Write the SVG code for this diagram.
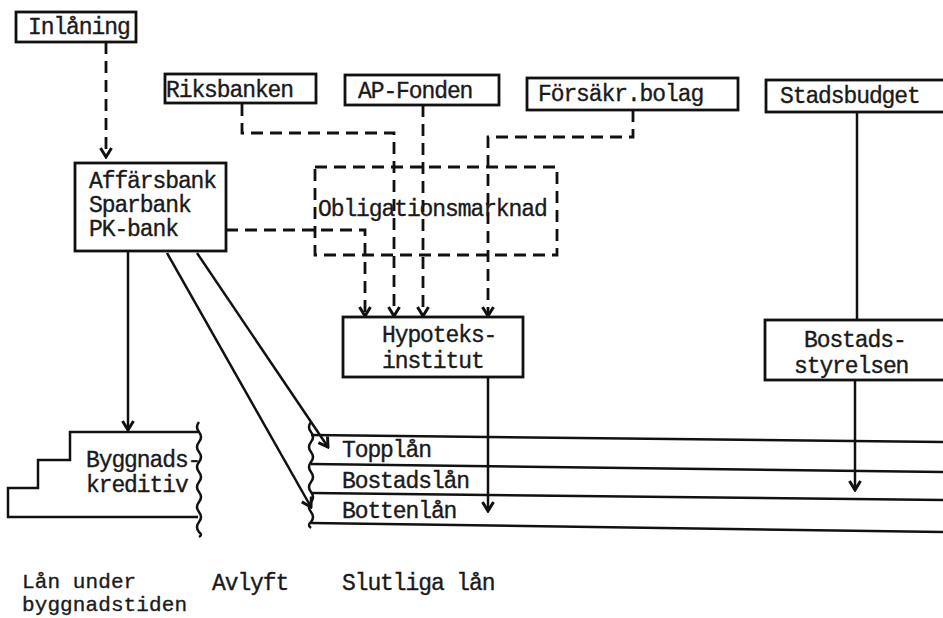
<svg xmlns="http://www.w3.org/2000/svg" width="943" height="618" viewBox="0 0 943 618">
<style>
.t{font-family:"Liberation Mono","Courier New",monospace;font-size:23px;letter-spacing:-1.1px;fill:#1a1a1a;stroke:#1a1a1a;stroke-width:0.35}
.s{font-size:21px;letter-spacing:0.1px}
.box{fill:#fff;stroke:#111;stroke-width:2.8}
.ln{fill:none;stroke:#111;stroke-width:2.5}
.ds{fill:none;stroke:#111;stroke-width:2.8;stroke-dasharray:12 7}
</style>
<defs>
<marker id="ah" viewBox="-11 -7 13 14" refX="0" refY="0" markerWidth="13" markerHeight="14" markerUnits="userSpaceOnUse" orient="auto">
<path d="M-9,-5.5 L0,0 L-9,5.5" fill="none" stroke="#111" stroke-width="3" stroke-dasharray="none"/>
</marker>
</defs>
<rect width="943" height="618" fill="#fff"/>

<g id="connectors">
<path class="ds" d="M106,42 V157" marker-end="url(#ah)"/>
<path class="ds" d="M242,104 V133 H394 V316" marker-end="url(#ah)"/>
<path class="ds" d="M423,105 V316" marker-end="url(#ah)"/>
<path class="ds" d="M633,110 V137 H488 V316" marker-end="url(#ah)"/>
<path class="ds" d="M226,230 H365 V316" marker-end="url(#ah)"/>
<path class="ln" d="M128,251 V430" marker-end="url(#ah)"/>
<path class="ln" d="M167,253 L311,507" marker-end="url(#ah)"/>
<path class="ln" d="M197,253 L328,447" marker-end="url(#ah)"/>
<path class="ln" d="M488,377 V511" marker-end="url(#ah)"/>
<path class="ln" d="M857,112 V320"/>
<path class="ln" d="M855,380 V490" marker-end="url(#ah)"/>
</g>

<g id="inlaning">
<rect class="box" x="16" y="12" width="120" height="30"/>
<text class="t" x="28" y="34">Inlåning</text>
</g>

<g id="riksbanken">
<rect class="box" x="165" y="74" width="151" height="29"/>
<text class="t" x="166" y="97">Riksbanken</text>
</g>

<g id="ap-fonden">
<rect class="box" x="345" y="75" width="154" height="30"/>
<text class="t" x="358" y="98">AP-Fonden</text>
</g>

<g id="forsakr">
<rect class="box" x="527" y="78" width="211" height="32"/>
<text class="t" x="538" y="101">Försäkr.bolag</text>
</g>

<g id="stadsbudget">
<rect class="box" x="766" y="80" width="190" height="32"/>
<text class="t" x="780" y="103">Stadsbudget</text>
</g>

<g id="affarsbank">
<rect class="box" x="75" y="163" width="151" height="88"/>
<text class="t" x="89" y="188">Affärsbank</text>
<text class="t" x="89" y="212">Sparbank</text>
<text class="t" x="89" y="236">PK-bank</text>
</g>

<g id="obligationsmarknad">
<rect class="ds" x="315" y="167" width="242" height="88" fill="none"/>
<text class="t" x="318" y="216">Obligationsmarknad</text>
</g>

<g id="hypoteksinstitut">
<rect class="box" x="343" y="317" width="180" height="60"/>
<text class="t" x="382" y="342">Hypoteks-</text>
<text class="t" x="382" y="368">institut</text>
</g>

<g id="bostadsstyrelsen">
<rect class="box" x="765" y="320" width="190" height="60"/>
<text class="t" x="804" y="347">Bostads-</text>
<text class="t" x="794" y="373">styrelsen</text>
</g>

<g id="byggnadskreditiv">
<path class="ln" d="M198,432 H70 V460 H38 V488 H8 V517 H198" stroke-width="2.8"/>
<path class="ln" d="M199,422 q-4,5 0,10 q4,5 0,10 q-4,5 0,10 q4,5 0,10 q-4,5 0,10 q4,5 0,10 q-4,5 0,10 q4,5 0,10 q-4,5 0,10 q4,5 0,10 q-4,5 0,10 q4,3 0,5"/>
<text class="t" x="86" y="467">Byggnads-</text>
<text class="t" x="86" y="492">kreditiv</text>
</g>

<g id="slutliga-lan">
<path class="ln" d="M311,422 q-4,5 0,10 q4,5 0,10 q-4,5 0,10 q4,5 0,10 q-4,5 0,10 q4,5 0,10 q-4,5 0,10 q4,5 0,10 q-4,5 0,10 q4,5 0,10 q-4,3 0,6"/>
<path class="ln" d="M311,435 L943,442"/>
<path class="ln" d="M311,464 L943,472"/>
<path class="ln" d="M311,493 L943,500"/>
<path class="ln" d="M311,523 L943,532"/>
<text class="t" x="342" y="457">Topplån</text>
<text class="t" x="342" y="488">Bostadslån</text>
<text class="t" x="342" y="518">Bottenlån</text>
</g>

<g id="labels">
<text class="t s" x="22" y="588">Lån under</text>
<text class="t s" x="22" y="611">byggnadstiden</text>
<text class="t" x="212" y="590">Avlyft</text>
<text class="t" x="342" y="590">Slutliga lån</text>
</g>
</svg>
